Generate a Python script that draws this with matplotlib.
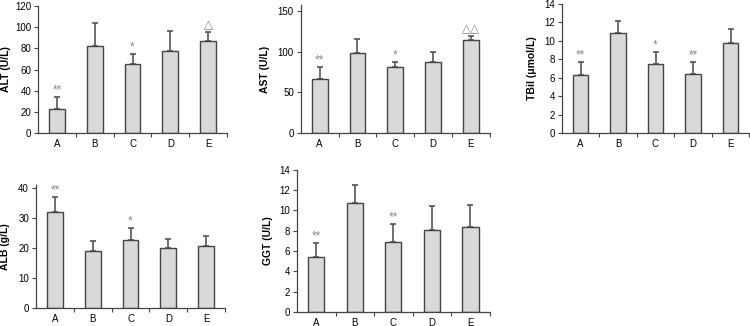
import numpy as np
import matplotlib.pyplot as plt

plt.rcParams['font.family'] = ['Liberation Sans', 'DejaVu Sans']

groups = ['A', 'B', 'C', 'D', 'E']

alt_mean = [23, 82.4, 65, 77.4, 86.5]
alt_err = [11, 21.6, 10, 19.2, 9.2]
alt_sig = ['**', '', '*', '', '\u25b3']

ast_mean = [66, 99, 81, 88, 115]
ast_err = [15, 17, 7, 12, 5]
ast_sig = ['**', '', '*', '', '\u25b3\u25b3']

tbil_mean = [6.24, 10.8, 7.5, 6.38, 9.72]
tbil_err = [1.49, 1.39, 1.3, 1.35, 1.56]
tbil_sig = ['**', '', '*', '**', '']

alb_mean = [31.9, 19.1, 22.8, 20.0, 20.8]
alb_err = [5.2, 3.1, 4.0, 3.1, 3.3]
alb_sig = ['**', '', '*', '', '']

ggt_mean = [5.44, 10.69, 6.89, 8.03, 8.33]
ggt_err = [1.31, 1.8, 1.73, 2.43, 2.19]
ggt_sig = ['**', '', '**', '', '']

panels = [
    # (rect, label, label x, mean, err, sig, ylim, yticks)
    ([0.0507, 0.592, 0.252, 0.3896], 'ALT (U/L)', -0.143, alt_mean, alt_err, alt_sig, 120, np.arange(0, 121, 20)),
    ([0.401, 0.592, 0.252, 0.393], 'AST (U/L)', -0.164, ast_mean, ast_err, ast_sig, 158, [0, 50, 100, 150]),
    ([0.749, 0.592, 0.250, 0.396], 'TBil (\u03bcmol/L)', -0.133, tbil_mean, tbil_err, tbil_sig, 14, np.arange(0, 15, 2)),
    ([0.048, 0.0552, 0.252, 0.377], 'ALB (g/L)', -0.138, alb_mean, alb_err, alb_sig, 41, np.arange(0, 41, 10)),
    ([0.396, 0.043, 0.257, 0.436], 'GGT (U/L)', -0.124, ggt_mean, ggt_err, ggt_sig, 14, np.arange(0, 15, 2)),
]

fig = plt.figure(figsize=(7.5, 3.26), dpi=100)
edge = '#444444'
x = np.arange(len(groups))

for rect, label, lx, mean, err, sig, ytop, yt in panels:
    ax = fig.add_axes(rect)
    ax.bar(x, mean, width=0.42, color='#d9d9d9', edgecolor=edge, linewidth=1, zorder=2)
    ax.errorbar(x, mean, yerr=[np.zeros(len(mean)), err], fmt='none',
                ecolor='#555555', elinewidth=1.2, capsize=2.5, capthick=1.2, zorder=1)
    for xi, m, e, s in zip(x, mean, err, sig):
        if s:
            ax.text(xi, m + e + ytop * 0.005, s, ha='center', va='bottom',
                    fontsize=8.5, color='#888888')
    ax.set_xlim(-0.5, 4.5)
    ax.set_ylim(0, ytop)
    ax.set_yticks(yt)
    ax.set_xticks(x)
    ax.set_xticklabels(groups, fontsize=7)
    ax.set_xticks(np.arange(0.5, 4.6, 1), minor=True)
    ax.tick_params(axis='x', which='major', length=0, pad=4)
    ax.tick_params(axis='x', which='minor', length=3, width=0.8, color=edge)
    ax.tick_params(axis='y', labelsize=7, length=3, width=0.8, color=edge, pad=2)
    ax.set_ylabel(label, fontsize=7.5, fontweight='bold')
    ax.yaxis.set_label_coords(lx, 0.5)
    for side in ['top', 'right']:
        ax.spines[side].set_visible(False)
    for side in ['left', 'bottom']:
        ax.spines[side].set_color(edge)
        ax.spines[side].set_linewidth(0.9)

fig.savefig('out.png', dpi=100)
